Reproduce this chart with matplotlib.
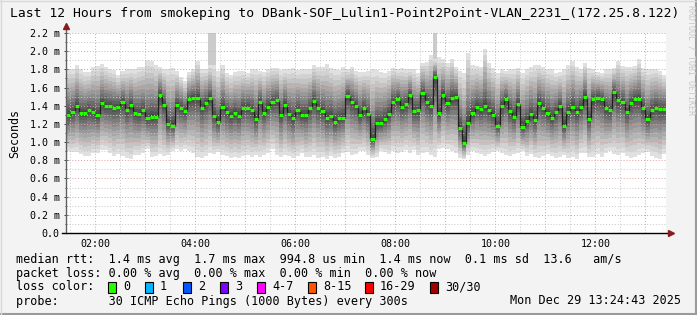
import numpy as np
import matplotlib.pyplot as plt
from matplotlib.lines import Line2D
from matplotlib.patches import Rectangle

plt.rcParams['font.family'] = 'DejaVu Sans Mono'

W, H = 697, 315

# 5 minute steps, 01:25 .. 13:25 (hours of day)
START_H = 1 + 25 / 60
STEP_H = 5 / 60

# median rtt per step (ms)
median_ms = [
    1.30, 1.33, 1.40, 1.32, 1.32, 1.35, 1.33, 1.30, 1.43, 1.40, 1.40, 1.38,
    1.39, 1.44, 1.35, 1.41, 1.32, 1.31, 1.35, 1.26, 1.28, 1.28, 1.52, 1.41,
    1.20, 1.18, 1.41, 1.38, 1.34, 1.47, 1.49, 1.49, 1.38, 1.43, 1.49, 1.29,
    1.22, 1.39, 1.33, 1.29, 1.32, 1.29, 1.38, 1.38, 1.35, 1.25, 1.44, 1.32,
    1.39, 1.44, 1.46, 1.30, 1.41, 1.31, 1.26, 1.35, 1.30, 1.30, 1.37, 1.45,
    1.38, 1.34, 1.27, 1.29, 1.22, 1.26, 1.27, 1.51, 1.44, 1.40, 1.30, 1.37,
    1.31, 1.03, 1.21, 1.21, 1.25, 1.31, 1.44, 1.47, 1.39, 1.42, 1.52, 1.34,
    1.35, 1.54, 1.44, 1.40, 1.72, 1.32, 1.52, 1.43, 1.49, 1.50, 1.16, 0.995,
    1.21, 1.32, 1.39, 1.36, 1.40, 1.35, 1.30, 1.18, 1.40, 1.47, 1.34, 1.28,
    1.42, 1.17, 1.23, 1.31, 1.24, 1.43, 1.38, 1.32, 1.26, 1.33, 1.40, 1.18,
    1.33, 1.39, 1.33, 1.39, 1.50, 1.25, 1.47, 1.49, 1.47, 1.37, 1.35, 1.55,
    1.46, 1.44, 1.33, 1.43, 1.47, 1.47, 1.37, 1.25, 1.35, 1.38, 1.36, 1.36,
]

# upper edge of the smoke (slowest pings, ms)
smoke_top = [
    1.80, 1.80, 1.85, 1.80, 1.77, 1.77, 1.83, 1.84, 1.86, 1.83, 1.80, 1.79,
    1.74, 1.78, 1.80, 1.80, 1.80, 1.83, 1.83, 1.90, 1.89, 1.85, 1.83, 1.80,
    1.80, 1.82, 1.78, 1.72, 1.67, 1.77, 1.80, 1.89, 1.80, 1.80, 1.85, 1.85,
    1.78, 1.85, 1.76, 1.74, 1.77, 1.78, 1.78, 1.76, 1.80, 1.80, 1.78, 1.77,
    1.80, 1.82, 1.82, 1.79, 1.80, 1.80, 1.82, 1.79, 1.80, 1.80, 1.80, 1.85,
    1.83, 1.83, 1.86, 1.82, 1.80, 1.79, 1.83, 1.80, 1.83, 1.78, 1.77, 1.77,
    1.78, 1.80, 1.79, 1.77, 1.76, 1.78, 1.82, 1.80, 1.82, 1.80, 1.80, 1.80,
    1.76, 1.87, 1.88, 1.96, 1.91, 1.94, 1.91, 1.87, 1.91, 1.83, 1.78, 1.76,
    1.98, 1.85, 1.84, 1.83, 2.02, 1.87, 1.82, 1.76, 1.80, 1.78, 1.80, 1.80,
    1.82, 1.76, 1.80, 1.83, 1.85, 1.85, 1.83, 1.80, 1.80, 1.76, 1.77, 1.80,
    1.85, 1.89, 1.83, 1.80, 1.87, 1.82, 1.80, 1.77, 1.76, 1.80, 1.80, 1.82,
    1.89, 1.84, 1.83, 1.83, 1.84, 1.91, 1.82, 1.80, 1.80, 1.80, 1.78, 1.74,
]

# lower edge of the smoke (fastest pings, ms)
smoke_bot = [
    0.90, 0.89, 0.89, 0.87, 0.85, 0.85, 0.88, 0.88, 0.91, 0.91, 0.88, 0.85,
    0.87, 0.85, 0.83, 0.81, 0.86, 0.86, 0.88, 0.92, 0.84, 0.85, 0.87, 0.85,
    0.86, 0.90, 0.92, 0.90, 0.92, 0.90, 0.88, 0.84, 0.83, 0.85, 0.88, 0.87,
    0.89, 0.86, 0.85, 0.83, 0.84, 0.83, 0.85, 0.86, 0.84, 0.86, 0.84, 0.86,
    0.88, 0.92, 0.86, 0.84, 0.86, 0.85, 0.83, 0.85, 0.88, 0.84, 0.84, 0.86,
    0.83, 0.84, 0.81, 0.85, 0.83, 0.84, 0.88, 0.89, 0.86, 0.87, 0.90, 0.90,
    0.86, 0.83, 0.84, 0.90, 0.89, 0.87, 0.90, 0.88, 0.89, 0.91, 0.88, 0.91,
    0.86, 0.88, 0.89, 0.86, 0.84, 0.92, 0.94, 0.92, 0.90, 0.88, 0.83, 0.81,
    0.86, 0.90, 0.88, 0.87, 0.85, 0.87, 0.89, 0.90, 0.88, 0.86, 0.85, 0.87,
    0.88, 0.90, 0.85, 0.87, 0.84, 0.83, 0.85, 0.87, 0.85, 0.83, 0.84, 0.86,
    0.83, 0.84, 0.81, 0.88, 0.88, 0.84, 0.84, 0.87, 0.84, 0.88, 0.90, 0.87,
    0.86, 0.88, 0.85, 0.83, 0.84, 0.86, 0.88, 0.89, 0.85, 0.83, 0.81, 0.87,
]

# single slow outliers above the smoke (step index, ms)
spike_steps = [34, 35, 88]
spike_ms = [2.2, 2.2, 2.2]

y_ticks = [0.0, 0.2, 0.4, 0.6, 0.8, 1.0, 1.2, 1.4, 1.6, 1.8, 2.0, 2.2]
y_labels = ['0.0'] + ['%.1f m' % v for v in y_ticks[1:]]
x_ticks = [2, 4, 6, 8, 10, 12]
x_labels = ['02:00', '04:00', '06:00', '08:00', '10:00', '12:00']

loss_labels = ['0', '1', '2', '3', '4-7', '8-15', '16-29', '30/30']
loss_colors = ['#26ff00', '#00b8ff', '#0059ff', '#7e00ff', '#ff00ff',
               '#ff5500', '#ff0000', '#a10000']

title = 'Last 12 Hours from smokeping to DBank-SOF_Lulin1-Point2Point-VLAN_2231_(172.25.8.122)'
rtt_line = 'median rtt:  1.4 ms avg  1.7 ms max  994.8 us min  1.4 ms now  0.1 ms sd  13.6   am/s'
loss_line = 'packet loss: 0.00 % avg  0.00 % max  0.00 % min  0.00 % now'
probe_line = 'probe:       30 ICMP Echo Pings (1000 Bytes) every 300s'
stamp = 'Mon Dec 29 13:24:43 2025'


def px(x, y):
    return x / W, 1 - y / H


med = np.array(median_ms)
top = np.array(smoke_top)
bot = np.array(smoke_bot)
n = len(med)
t = START_H + STEP_H * np.arange(n + 1)


def ext(a):
    return np.append(a, a[-1])


fig = plt.figure(figsize=(W / 100, H / 100), dpi=100, facecolor='#f3f3f3')
ax = fig.add_axes([66 / W, 82 / H, 600 / W, 200 / H])
ax.set_facecolor('white')
ax.set_xlim(1 + 24.72 / 60, 13 + 24.72 / 60)
ax.set_ylim(0, 2.2)

# smoke
for s, v in zip(spike_steps, spike_ms):
    ax.fill_between([t[s], t[s + 1]], med[s], v, color='#cbcbcb', lw=0, zorder=1)

n_layers = 12
for k in range(n_layers):
    f = (1 - k / n_layers) ** 1.3
    g = 0.88 - 0.62 * k / (n_layers - 1)
    hi = med + f * (top - med)
    lo = med - f * (med - bot)
    ax.fill_between(t, ext(lo), ext(hi), step='post', color=(g, g, g), lw=0, zorder=1)

# grid
dots = (0, (1, 2))
for v in np.arange(0.1, 2.25, 0.1):
    major = round(v * 10) % 2 == 0
    ax.axhline(v, color='#dca0a0' if major else '#c8c8c8', lw=0.7, ls=dots, zorder=2)
for h in np.arange(1.5, 13.5, 0.5):
    major = h == int(h)
    ax.axvline(h, color='#dca0a0' if major else '#c8c8c8', lw=0.7, ls=dots, zorder=2)

# median line
ax.step(t, ext(med), where='post', color='#202020', lw=0.9, zorder=3)
ax.hlines(med, t[:-1], t[1:], color='#26ff00', lw=2.3, zorder=4)

# axes
for sp in ax.spines.values():
    sp.set_visible(False)
ax.add_line(Line2D([0, 0], [0, 1.035], transform=ax.transAxes, color='#606060',
                   lw=1, clip_on=False, zorder=5))
ax.add_line(Line2D([-0.006, 1.008], [0, 0], transform=ax.transAxes, color='black',
                   lw=1, clip_on=False, zorder=5))
ax.plot([0], [1.035], marker='^', ms=5, color='#8b1a1a', transform=ax.transAxes,
        clip_on=False, zorder=6)
ax.plot([1.008], [0], marker='>', ms=5, color='#8b1a1a', transform=ax.transAxes,
        clip_on=False, zorder=6)

ax.set_yticks(y_ticks)
ax.set_yticklabels(y_labels)
ax.set_yticks(np.arange(0.1, 2.2, 0.2), minor=True)
ax.set_xticks(x_ticks)
ax.set_xticklabels(x_labels)
ax.tick_params(axis='y', which='major', length=3, width=0.7, color='#404040',
               direction='inout', pad=3, labelsize=7.2)
ax.tick_params(axis='y', which='minor', length=2, width=0.7, color='#404040',
               direction='inout')
ax.tick_params(axis='x', length=0, pad=4, labelsize=7.2)
ax.set_ylabel('Seconds', fontsize=8.4, labelpad=6)

# texts
fig.text(*px(345, 13), title, fontsize=9.35, ha='center', va='center')
fig.text(*px(691, 60), 'RRDTOOL / TOBI OETIKER', fontsize=6, color='#c8c8c8',
         rotation=270, ha='center', va='center')

fig.text(*px(16, 259), rtt_line, fontsize=8.5, va='center')
fig.text(*px(16, 273), loss_line, fontsize=8.5, va='center')
fig.text(*px(16, 287), 'loss color:', fontsize=8.5, va='center')
fig.text(*px(16, 301), probe_line, fontsize=8.5, va='center')
fig.text(*px(681, 301), stamp, fontsize=8.5, va='center', ha='right')

box_x = [108, 145, 183, 220, 257, 308, 365, 430]
for bx, lab, col in zip(box_x, loss_labels, loss_colors):
    x0, y0 = px(bx, 293)
    fig.patches.append(Rectangle((x0, y0), 8 / W, 11 / H, transform=fig.transFigure,
                                 facecolor=col, edgecolor='black', lw=0.8))
    fig.text(*px(bx + 15, 287), lab, fontsize=8.5, va='center')

# frame
fig.add_artist(Line2D([0, 1], [1 / H, 1 / H], transform=fig.transFigure, color='#9a9a9a', lw=1.5))
fig.add_artist(Line2D([1 - 1 / W, 1 - 1 / W], [0, 1], transform=fig.transFigure, color='#9a9a9a', lw=1.5))
fig.add_artist(Line2D([0, 1], [1 - 0.5 / H, 1 - 0.5 / H], transform=fig.transFigure, color='#d8d8d8', lw=1))
fig.add_artist(Line2D([0.5 / W, 0.5 / W], [0, 1], transform=fig.transFigure, color='#d8d8d8', lw=1))

fig.savefig('out.png', dpi=100, facecolor=fig.get_facecolor())
